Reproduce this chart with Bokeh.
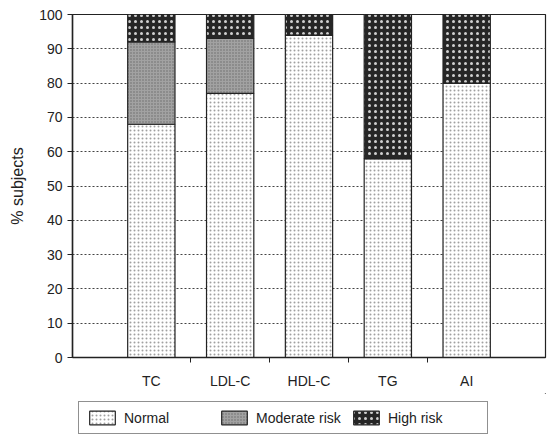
from bokeh.plotting import figure
from bokeh.models import ColumnDataSource, FixedTicker, Legend, LegendItem, Range1d
from bokeh.layouts import column
from bokeh.embed import file_html
from bokeh.resources import INLINE

categories = ["TC", "LDL-C", "HDL-C", "TG", "AI"]
normal = [68, 77, 94, 58, 80]
moderate = [24, 16, 0, 0, 0]
high = [8, 7, 6, 42, 20]
series_names = ["Normal", "Moderate risk", "High risk"]
y_ticks = [0, 10, 20, 30, 40, 50, 60, 70, 80, 90, 100]

fills = ["#ffffff", "#a2a2a2", "#262626"]
hatch_cols = ["#a0a0a0", "#6a6a6a", "#d0d0d0"]
hatch_scales = [4, 3, 6]
stackers = ["normal", "moderate", "high"]

xpos = [i + 1 for i in range(len(categories))]
source = ColumnDataSource(dict(x=xpos, normal=normal, moderate=moderate, high=high))

W = 547
p = figure(width=W, height=393, output_backend="svg", toolbar_location=None,
           x_range=Range1d(0, len(categories) + 1), y_range=Range1d(0, 100),
           min_border_left=72, min_border_right=2, min_border_top=14, min_border_bottom=36)

p.outline_line_color = "#222222"
p.outline_line_width = 1.2
p.xgrid.visible = False
p.ygrid.ticker = FixedTicker(ticks=y_ticks[1:-1])
p.ygrid.grid_line_color = "#444444"
p.ygrid.grid_line_dash = "2 2"
p.ygrid.grid_line_width = 1

renderers = p.vbar_stack(stackers, x="x", width=0.6, source=source,
                         fill_color=fills, hatch_pattern=["dot"] * 3,
                         hatch_color=hatch_cols, hatch_scale=hatch_scales,
                         hatch_weight=[1, 1, 1],
                         line_color="#222222", line_width=1.2)

font = "Liberation Sans"
txt = "#222222"

p.yaxis.ticker = FixedTicker(ticks=y_ticks)
p.yaxis.axis_label = "% subjects"
p.yaxis.axis_label_text_font = font
p.yaxis.axis_label_text_font_style = "normal"
p.yaxis.axis_label_text_font_size = "16px"
p.yaxis.axis_label_text_color = txt
p.yaxis.axis_label_standoff = 10
p.yaxis.major_label_text_font = font
p.yaxis.major_label_text_font_size = "14px"
p.yaxis.major_label_text_color = txt
p.yaxis.major_tick_in = 0
p.yaxis.major_tick_out = 5
p.yaxis.minor_tick_line_color = None
p.yaxis.axis_line_color = "#222222"
p.yaxis.axis_line_width = 1.5
p.yaxis.major_tick_line_color = "#222222"

p.xaxis.ticker = FixedTicker(ticks=xpos, minor_ticks=[i + 0.5 for i in xpos[:-1]])
p.xaxis.major_label_overrides = {x: c for x, c in zip(xpos, categories)}
p.xaxis.major_label_text_font = font
p.xaxis.major_label_text_font_size = "14px"
p.xaxis.major_label_text_color = txt
p.xaxis.major_tick_in = 0
p.xaxis.major_tick_out = 0
p.xaxis.minor_tick_in = 0
p.xaxis.minor_tick_out = 5
p.xaxis.minor_tick_line_color = "#222222"
p.xaxis.major_label_standoff = 10
p.xaxis.axis_line_color = "#222222"
p.xaxis.axis_line_width = 1.5

# legend figure (frame aligned with main frame by the column layout)
lf = figure(width=W, height=44, output_backend="svg", toolbar_location=None,
            x_range=Range1d(0, 1), y_range=Range1d(0, 1),
            x_axis_type=None, y_axis_type=None,
            min_border_left=72, min_border_right=2,
            min_border_top=0, min_border_bottom=0)
lf.grid.visible = False
lf.outline_line_color = None
items = []
for name, fc, hc, hs in zip(series_names, fills, hatch_cols, hatch_scales):
    src = ColumnDataSource(dict(x=[5], top=[5]))  # outside visible range
    r = lf.vbar(x="x", top="top", bottom=4, width=0.1, source=src, fill_color=fc,
                hatch_pattern="dot", hatch_color=hc, hatch_scale=hs, hatch_weight=1,
                line_color="#222222", line_width=1.2)
    items.append(LegendItem(label=name, renderers=[r]))

legend = Legend(items=items, orientation="horizontal", location=(6, 3),
                label_text_font=font, label_text_font_size="14px", label_text_color=txt,
                glyph_width=32, glyph_height=17, label_height=17, label_width=92,
                spacing=2, padding=7, margin=0,
                label_standoff=6, border_line_color="#222222", border_line_width=1.2,
                background_fill_alpha=0)
lf.add_layout(legend, "center")

open("out.html", "w").write(file_html(column(p, lf, spacing=0), INLINE))
